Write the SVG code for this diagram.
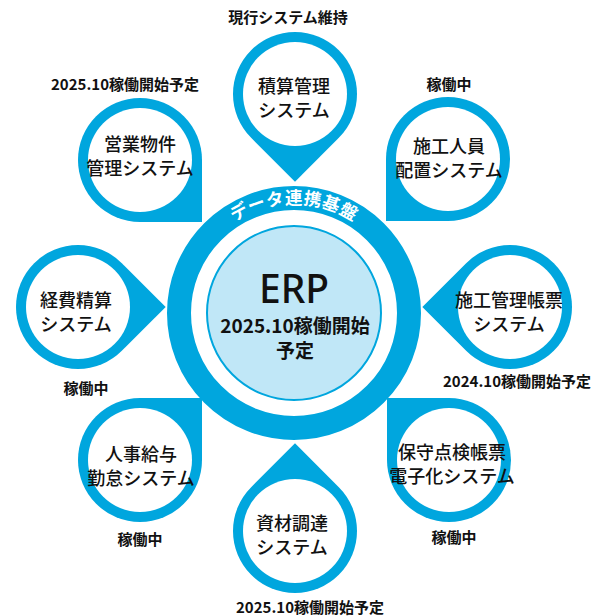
<svg xmlns="http://www.w3.org/2000/svg" width="592" height="616" viewBox="0 0 592 616">
<style>
.pin{fill:#00a6de}
.hole{fill:#ffffff}
.lbl{font-family:"Noto Sans CJK JP","Noto Sans",sans-serif;font-size:18px;font-weight:500;fill:#111;text-anchor:middle}
.st{font-family:"Noto Sans CJK JP","Noto Sans",sans-serif;font-size:15px;font-weight:700;fill:#111;text-anchor:middle}
</style>
<defs>
<path id="drop" d="M -62 0 A 62 62 0 1 1 0 62 L -62 62 Z"/>
<path id="arc" d="M 185 313 A 109 109 0 0 1 403 313"/>
</defs>
<rect width="592" height="616" fill="#ffffff"/>

<g id="erp">
<circle cx="294" cy="313" r="115" fill="none" stroke="#00a6de" stroke-width="24"/>
<text font-family="'Noto Sans CJK JP',sans-serif" font-size="17.5" font-weight="700" fill="#ffffff" letter-spacing="0.5"><textPath href="#arc" startOffset="50%" text-anchor="middle">データ連携基盤</textPath></text>
<circle cx="294" cy="313" r="87" fill="#c0e7f7" stroke="#00a6de" stroke-width="2"/>
<text x="294" y="303" font-family="'Noto Sans',sans-serif" font-size="39" font-weight="500" fill="#111" text-anchor="middle">ERP</text>
<text x="295" y="333" font-family="'Noto Sans CJK JP',sans-serif" font-size="19" font-weight="700" fill="#111" text-anchor="middle">2025.10稼働開始</text>
<text x="295" y="358" font-family="'Noto Sans CJK JP',sans-serif" font-size="19" font-weight="700" fill="#111" text-anchor="middle">予定</text>
</g>

<g id="sekisan">
<use href="#drop" class="pin" transform="translate(295 94) rotate(-45)"/>
<circle cx="295" cy="94" r="52" class="hole"/>
<text class="lbl" x="294" y="93">積算管理</text>
<text class="lbl" x="294" y="117">システム</text>
<text class="st" x="288" y="23">現行システム維持</text>
</g>

<g id="haichi">
<use href="#drop" class="pin" transform="translate(448 159)"/>
<circle cx="448" cy="159" r="52" class="hole"/>
<text class="lbl" x="449" y="153">施工人員</text>
<text class="lbl" x="449" y="177">配置システム</text>
<text class="st" x="449" y="90">稼働中</text>
</g>

<g id="choho">
<use href="#drop" class="pin" transform="translate(510 307) rotate(45)"/>
<circle cx="510" cy="307" r="52" class="hole"/>
<text class="lbl" x="509" y="307">施工管理帳票</text>
<text class="lbl" x="509" y="331">システム</text>
<text class="st" x="517" y="387">2024.10稼働開始予定</text>
</g>

<g id="hoshu">
<use href="#drop" class="pin" transform="translate(449 460) rotate(90)"/>
<circle cx="449" cy="460" r="52" class="hole"/>
<text class="lbl" x="452" y="459">保守点検帳票</text>
<text class="lbl" x="452" y="483">電子化システム</text>
<text class="st" x="454" y="543">稼働中</text>
</g>

<g id="shizai">
<use href="#drop" class="pin" transform="translate(295 531) rotate(135)"/>
<circle cx="295" cy="531" r="52" class="hole"/>
<text class="lbl" x="292" y="530">資材調達</text>
<text class="lbl" x="292" y="554">システム</text>
<text class="st" x="310" y="613">2025.10稼働開始予定</text>
</g>

<g id="jinji">
<use href="#drop" class="pin" transform="translate(140 460) rotate(180)"/>
<circle cx="140" cy="460" r="52" class="hole"/>
<text class="lbl" x="141" y="461">人事給与</text>
<text class="lbl" x="141" y="485">勤怠システム</text>
<text class="st" x="140" y="545">稼働中</text>
</g>

<g id="keihi">
<use href="#drop" class="pin" transform="translate(78 307) rotate(-135)"/>
<circle cx="78" cy="307" r="52" class="hole"/>
<text class="lbl" x="76" y="307">経費精算</text>
<text class="lbl" x="76" y="331">システム</text>
<text class="st" x="86" y="394">稼働中</text>
</g>

<g id="eigyo">
<use href="#drop" class="pin" transform="translate(140 160) rotate(-90)"/>
<circle cx="140" cy="160" r="52" class="hole"/>
<text class="lbl" x="140" y="151">営業物件</text>
<text class="lbl" x="140" y="175">管理システム</text>
<text class="st" x="125" y="90">2025.10稼働開始予定</text>
</g>
</svg>
